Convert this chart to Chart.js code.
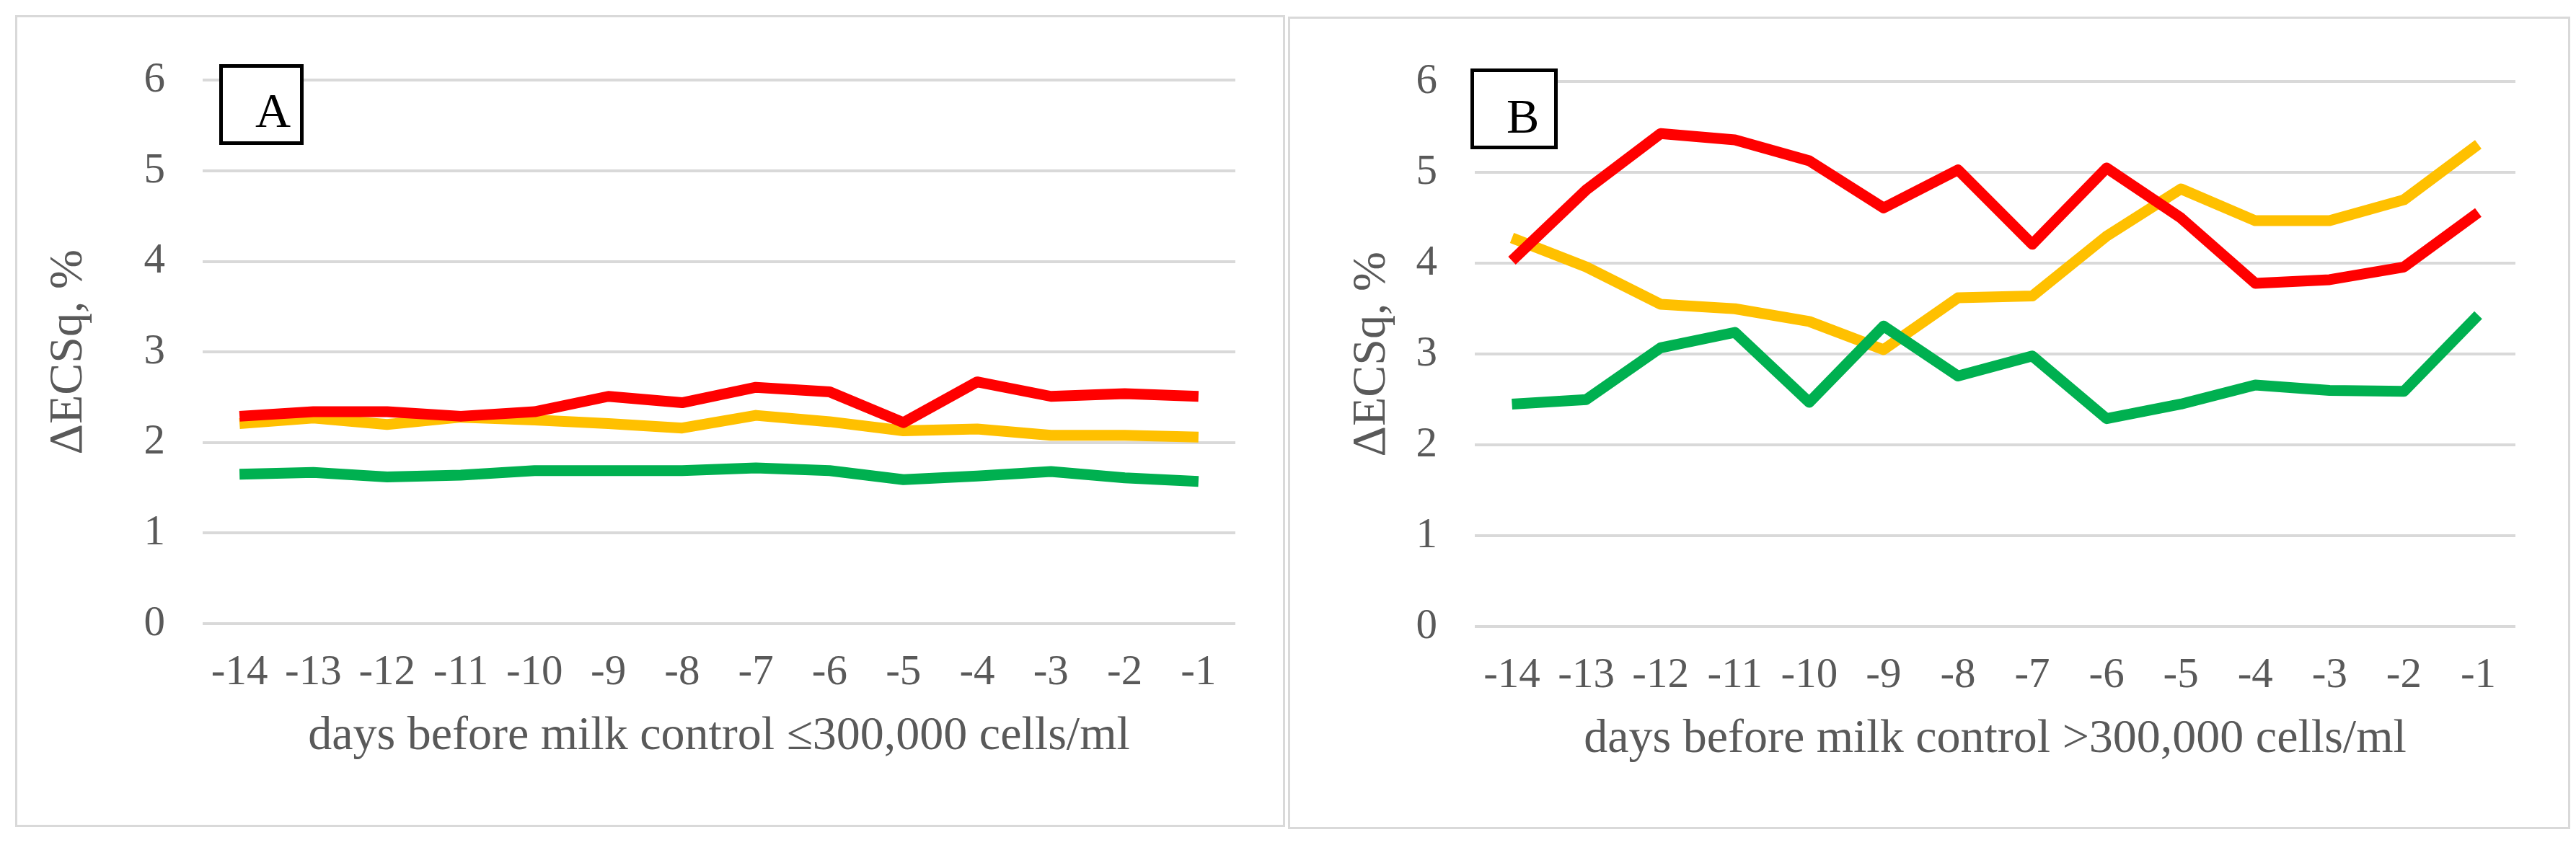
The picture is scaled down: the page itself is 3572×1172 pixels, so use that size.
<!DOCTYPE html>
<html>
<head>
<meta charset="utf-8">
<script src="https://cdn.jsdelivr.net/npm/chart.js@4/dist/chart.umd.min.js"></script>
<style>
  body { margin: 0; background: #fff; }
  #page { position: relative; width: 3572px; height: 1172px; overflow: hidden; }
  .panel { position: absolute; border: 3px solid #d9d9d9; box-sizing: border-box; }
  canvas { position: absolute; }
  .tag {
    position: absolute; border: 5px solid #000; box-sizing: border-box; background: #fff;
    font-family: "Liberation Serif", serif; font-size: 68px; color: #000;
  }
  .tag span { position: absolute; }
</style>
</head>
<body>
<div id="page">
  <div class="panel" style="left:21px;top:21px;width:1761px;height:1126px"></div>
  <div class="panel" style="left:1786px;top:23px;width:1778px;height:1127px"></div>
  <canvas id="chartA" style="left:24px;top:24px"></canvas>
  <canvas id="chartB" style="left:1789px;top:26px"></canvas>
  <div class="tag" style="left:304px;top:89px;width:117px;height:112px"><span style="left:45px;top:20px">A</span></div>
  <div class="tag" style="left:2039px;top:95px;width:121px;height:112px"><span style="left:45px;top:22px">B</span></div>
</div>
<script>
const days = ['-14', '-13', '-12', '-11', '-10', '-9', '-8', '-7', '-6', '-5', '-4', '-3', '-2', '-1'];

// panel A: <=300,000 cells/ml
const redA    = [2.29, 2.34, 2.34, 2.29, 2.34, 2.51, 2.44, 2.61, 2.56, 2.22, 2.67, 2.51, 2.54, 2.51];
const yellowA = [2.21, 2.27, 2.20, 2.28, 2.25, 2.21, 2.16, 2.30, 2.23, 2.13, 2.15, 2.08, 2.08, 2.06];
const greenA  = [1.65, 1.67, 1.62, 1.64, 1.69, 1.69, 1.69, 1.72, 1.69, 1.59, 1.63, 1.68, 1.61, 1.57];

// panel B: >300,000 cells/ml
const redB    = [4.03, 4.81, 5.43, 5.36, 5.13, 4.61, 5.03, 4.21, 5.05, 4.50, 3.78, 3.82, 3.96, 4.56];
const yellowB = [4.28, 3.96, 3.55, 3.50, 3.36, 3.05, 3.62, 3.64, 4.30, 4.82, 4.47, 4.47, 4.70, 5.31];
const greenB  = [2.45, 2.50, 3.07, 3.24, 2.47, 3.31, 2.76, 2.98, 2.29, 2.45, 2.66, 2.60, 2.59, 3.43];

const yTicks = [0, 1, 2, 3, 4, 5, 6];

const textGrey = '#595959';
const serif = '"Liberation Serif", "Times New Roman", serif';

function line(data, color) {
    return {
        data: data,
        borderColor: color,
        backgroundColor: color,
        borderWidth: 15,
        pointRadius: 0,
        tension: 0,
        borderJoinStyle: 'round',
        borderCapStyle: 'butt'
    };
}

function drawPanel(id, w, h, area, red, yellow, green, xTitle, yTitlePad, xTitlePad) {
    const cv = document.getElementById(id);
    cv.width = w; cv.height = h;
    cv.style.width = w + 'px'; cv.style.height = h + 'px';
    new Chart(cv.getContext('2d'), {
        type: 'line',
        data: {
            labels: days,
            datasets: [line(green, '#00b050'), line(red, '#ff0000'), line(yellow, '#ffc000')]
        },
        options: {
            responsive: false,
            animation: false,
            devicePixelRatio: 1,
            layout: { padding: { left: 0, top: area.top, right: w - area.right, bottom: 0 } },
            scales: {
                x: {
                    offset: true,
                    grid: { display: false, drawTicks: false },
                    border: { display: false },
                    ticks: { color: textGrey, padding: 33, maxRotation: 0, autoSkip: false,
                             font: { family: serif, size: 59, lineHeight: 1.2 } },
                    title: { display: true, text: xTitle, color: textGrey,
                             padding: { top: 0, bottom: xTitlePad },
                             font: { family: serif, size: 66, lineHeight: 1.2 } },
                    afterFit: (s) => { s.height = h - area.bottom; }
                },
                y: {
                    min: 0, max: 6,
                    afterBuildTicks: (s) => { s.ticks = yTicks.map(v => ({ value: v })); },
                    grid: { color: '#d9d9d9', lineWidth: 4, drawTicks: false },
                    border: { display: false },
                    ticks: { color: textGrey, padding: 52,
                             font: { family: serif, size: 59, lineHeight: 1.2 } },
                    title: { display: true, text: 'ΔECSq, %', color: textGrey,
                             padding: { top: yTitlePad, bottom: 0 },
                             font: { family: serif, size: 66, lineHeight: 1.2 } },
                    afterFit: (s) => { s.width = area.left; }
                }
            },
            plugins: {
                legend: { display: false },
                tooltip: { enabled: false }
            }
        }
    });
}

drawPanel('chartA', 1755, 1120, { left: 257, right: 1689, top: 70, bottom: 841 },
    redA, yellowA, greenA, 'days before milk control ≤300,000 cells/ml', 32, 83);
drawPanel('chartB', 1772, 1121, { left: 256, right: 1699, top: 70, bottom: 843 },
    redB, yellowB, greenB, 'days before milk control >300,000 cells/ml', 74, 82);
</script>
</body>
</html>
